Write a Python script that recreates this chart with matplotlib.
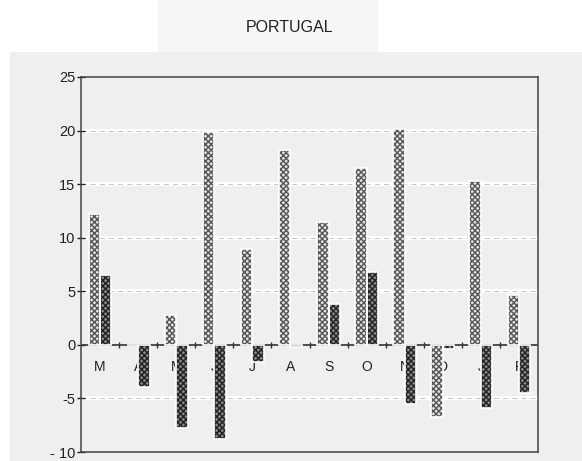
import matplotlib.pyplot as plt
import numpy as np
from matplotlib.patches import Rectangle

plt.rcParams['font.family'] = ['Liberation Sans', 'DejaVu Sans']
plt.rcParams['hatch.linewidth'] = 1.0

# 数据
months = ['M', 'A', 'M', 'J', 'J', 'A', 'S', 'O', 'N', 'D', 'J', 'F']
light = [12.2, 0.0, 2.8, 19.9, 8.9, 18.2, 11.5, 16.5, 20.1, -6.7, 15.3, 4.7]
dark = [6.5, -3.9, -7.8, -8.8, -1.6, -0.2, 3.8, 6.8, -5.5, -0.4, -5.9, -4.5]
yticks = [-10, -5, 0, 5, 10, 15, 20, 25]
ytick_labels = ['- 10', '-5', '0', '5', '10', '15', '20', '25']

bg = '#efefef'
fig = plt.figure(figsize=(5.82, 4.61), dpi=100, facecolor='white')
# 灰色底板和标题框
fig.patches.append(Rectangle((10/582, 0), 1 - 10/582, 409/461, transform=fig.transFigure,
                             facecolor=bg, edgecolor='none', zorder=-5))
fig.patches.append(Rectangle((158/582, 409/461), 220/582, 52/461, transform=fig.transFigure,
                             facecolor='#f6f6f6', edgecolor='none', zorder=-5))
fig.text(290/582, 1 - 27/461, 'PORTUGAL', ha='center', va='center', fontsize=11.5, color='#222222')

ax = fig.add_axes([81/582, 1 - 452/461, 457/582, 375/461])
ax.set_facecolor(bg)

x = np.arange(len(months))
w = 0.3

# 网格线: 白色带虚线
for yv in [-5, 5, 10, 15, 20]:
    ax.axhline(yv, color='white', linewidth=3, zorder=1)
    ax.axhline(yv, color='#bbbbbb', linewidth=0.6, linestyle=(0, (6, 5)), zorder=1.1)

# 月份标签 (在柱子下面)
for xi, m in zip(x, months):
    ax.text(xi, -2.1, m, ha='center', va='center', fontsize=10, color='#222222', zorder=1.5)

# 浅色柱
ax.bar(x - w/2, light, w, facecolor='#e2e2e2', edgecolor='#555555', hatch='xxxxxx', linewidth=0, zorder=3)
ax.bar(x - w/2, light, w, facecolor='none', edgecolor='white', linewidth=1.2, zorder=3.1)
# 深色柱
ax.bar(x + w/2, dark, w, facecolor='#888888', edgecolor='#222222', hatch='xxxxxx', linewidth=0, zorder=3)
ax.bar(x + w/2, dark, w, facecolor='none', edgecolor='white', linewidth=1.2, zorder=3.1)

# 零线和分隔刻度
ax.axhline(0, color='#333333', linewidth=1.2, zorder=2)
ax.plot(x[:-1] + 0.5, np.zeros(len(x) - 1), linestyle='none', marker='|',
        markersize=5, markeredgewidth=1.0, color='#333333', zorder=2)

ax.set_xlim(-0.5, len(months) - 0.5)
ax.set_ylim(-10, 25)
ax.set_xticks([])
ax.set_yticks(yticks)
ax.set_yticklabels(ytick_labels, fontsize=10.5, color='#222222')
ax.tick_params(axis='y', direction='inout', length=6, width=1, pad=1, colors='#222222')
for s in ax.spines.values():
    s.set_color('#444444')
    s.set_linewidth(1.1)

fig.savefig('out.png', dpi=100, facecolor='white')
